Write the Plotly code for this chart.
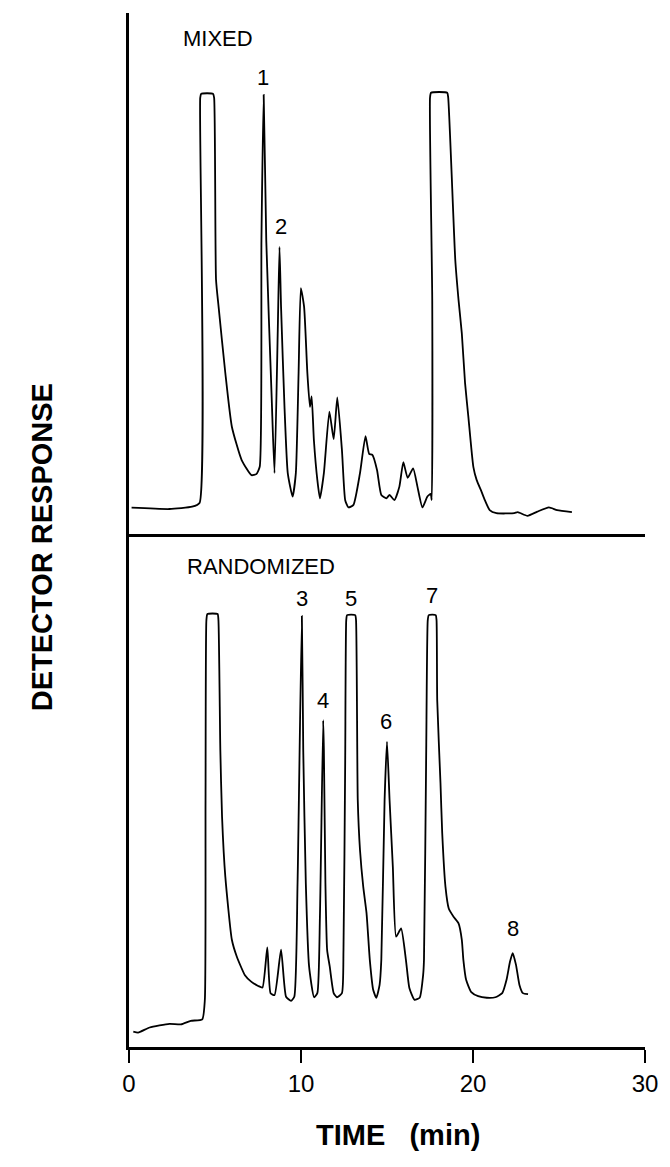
import plotly.graph_objects as go

# ---- data: MIXED chromatogram (time in min, detector response in arbitrary units) ----
mixed_t = [0.15, 2.35, 3.67, 4.1, 4.14, 4.2, 4.88, 4.95, 5.06, 5.21, 5.6, 5.98, 6.55, 7.12, 7.4, 7.6,
           7.7, 7.83, 7.98, 8.3, 8.46, 8.65, 8.75, 8.84, 9.04, 9.23, 9.51, 9.7, 9.86, 9.99, 10.18,
           10.37, 10.52, 10.62, 10.75, 10.95, 11.1, 11.33, 11.65, 11.9, 12.11, 12.38, 12.57, 12.76,
           13.05, 13.43, 13.75, 13.96, 14.15, 14.42, 14.67, 14.96, 15.15, 15.43, 15.72, 15.95, 16.2,
           16.52, 16.77, 17.06, 17.35, 17.54, 17.6, 17.63, 17.5, 17.56, 18.5, 18.56, 18.97, 19.16,
           19.35, 19.54, 19.73, 20.02, 20.21, 20.5, 20.69, 20.97, 21.36, 22.4, 22.6, 23.17, 23.74,
           24.41, 24.89, 25.75]
mixed_v = [5.05, 4.8, 5.24, 5.95, 83.7, 84.5, 84.5, 83.7, 48.8, 43.6, 30.9, 20.6, 14.2, 11.3, 11.5, 12.9,
           56.4, 84.3, 56.4, 25.7, 11.7, 39.2, 55.1, 43.6, 24.4, 11.7, 7.2, 11.7, 30.9, 47.2, 43.6,
           30.9, 24.4, 26.4, 18.0, 10.4, 6.85, 11.7, 23.5, 18.2, 26.2, 16.1, 6.5, 5.1,
           5.6, 11.7, 18.8, 15.4, 15.2, 12.3, 7.5, 6.85, 7.5, 6.5, 9.1, 13.8, 10.8,
           12.6, 9.1, 5.1, 7.2, 7.7, 6.5, 44.9, 83.7, 84.7, 84.7, 83.7, 52.6, 44.9,
           38.5, 28.9, 22.5, 12.9, 10.4, 8.1, 6.5, 4.6, 4.0, 4.0, 4.2, 3.5, 4.3,
           5.1, 4.6, 4.2]

# ---- data: RANDOMIZED chromatogram ----
rand_t = [0.25, 0.53, 1.2, 2.35, 3.02, 3.59, 4.26, 4.41, 4.45, 4.5, 4.56, 5.15, 5.2, 5.31, 5.41, 5.6,
          5.98, 6.27, 6.74, 7.12, 7.51, 7.76, 8.04, 8.23, 8.46, 8.84, 9.13, 9.42, 9.61, 9.8, 10.05,
          10.13, 10.28, 10.47, 10.76, 10.95, 11.1, 11.29, 11.33, 11.42, 11.52, 11.67, 11.9, 12.09,
          12.38, 12.47, 12.57, 12.63, 12.68, 13.15, 13.2, 13.3, 13.43, 13.62, 13.81, 14.0, 14.2,
          14.38, 14.57, 14.67, 14.86, 15.0, 15.15, 15.34, 15.53, 15.82, 16.1, 16.3, 16.6, 16.9,
          17.1, 17.15, 17.28, 17.37, 17.43, 17.83, 17.88, 17.92, 18.11, 18.21, 18.4, 18.59, 18.87,
          19.16, 19.35, 19.44, 19.6, 19.9, 20.3, 20.8, 21.3, 21.7, 21.95, 22.15, 22.31, 22.5, 22.7,
          22.9, 23.2]
rand_v = [3.0, 2.8, 3.8, 4.5, 4.4, 5.1, 5.4, 9.2, 48.1, 83.2, 84.4, 84.4, 83.2, 57.9, 44.9, 33.2,
          20.9, 17.6, 14.0, 12.7, 11.9, 11.6, 19.4, 10.5, 10.1, 19.0, 9.8, 9.0, 9.8, 32.0, 84.0,
          57.9, 31.9, 15.7, 9.7, 10.5, 25.4, 63.7, 57.9, 31.9, 18.9, 15.7, 10.5, 9.7,
          10.5, 18.9, 55.9, 83.2, 84.2, 84.2, 83.2, 48.1, 38.4, 31.2, 26.1, 17.0, 11.1,
          9.6, 12.1, 17.0, 48.1, 59.5, 48.1, 35.1, 21.5, 23.1, 17.0, 11.5, 9.2, 9.6,
          14.0, 17.0, 57.9, 83.2, 84.2, 84.2, 83.2, 67.6, 51.4, 41.7, 31.2, 27.0, 25.4,
          24.1, 20.9, 17.0, 13.1, 10.7, 9.9, 9.6, 9.7, 10.5, 13.1, 16.6, 18.3, 16.0, 12.1,
          10.5, 10.3]

# ---- peak labels ----
mixed_labels = ["1", "2"]
mixed_label_t = [7.8, 8.81]
mixed_label_v = [87.7, 59.0]
rand_labels = ["3", "4", "5", "6", "7", "8"]
rand_label_t = [10.05, 11.29, 12.91, 14.92, 17.63, 22.31]
rand_label_v = [87.5, 67.6, 87.5, 63.5, 88.1, 23.1]

x_ticks = [0, 10, 20, 30]

FONT = "Liberation Sans, Arial, Helvetica, sans-serif"
LINE = dict(color="black", width=1.8, shape="spline", smoothing=0.5)

fig = go.Figure()
fig.add_trace(go.Scatter(x=mixed_t, y=mixed_v, mode="lines", line=LINE, xaxis="x2", yaxis="y2",
                         showlegend=False, hoverinfo="skip"))
fig.add_trace(go.Scatter(x=rand_t, y=rand_v, mode="lines", line=LINE, xaxis="x", yaxis="y",
                         showlegend=False, hoverinfo="skip"))

split = 0.4961
annotations = []
annotations.append(dict(text="MIXED", x=3.04, y=95.2, xref="x2", yref="y2", xanchor="left",
                        yanchor="middle", showarrow=False, font=dict(family=FONT, size=22, color="black")))
annotations.append(dict(text="RANDOMIZED", x=3.27, y=93.6, xref="x", yref="y", xanchor="left",
                        yanchor="middle", showarrow=False, font=dict(family=FONT, size=22, color="black")))
for s, t, v in zip(mixed_labels, mixed_label_t, mixed_label_v):
    annotations.append(dict(text=s, x=t, y=v, xref="x2", yref="y2", showarrow=False,
                            font=dict(family=FONT, size=22, color="black")))
for s, t, v in zip(rand_labels, rand_label_t, rand_label_v):
    annotations.append(dict(text=s, x=t, y=v, xref="x", yref="y", showarrow=False,
                            font=dict(family=FONT, size=22, color="black")))
annotations.append(dict(text="<b>DETECTOR RESPONSE</b>", x=-0.168, y=0.4836, xref="paper", yref="paper",
                        textangle=-90, showarrow=False, xanchor="center", yanchor="middle",
                        font=dict(family=FONT, size=29, color="black")))
annotations.append(dict(text="<b>TIME   (min)</b>", x=0.6845, y=-0.0851, xref="paper", yref="paper",
                        showarrow=False, xanchor="right", yanchor="middle",
                        font=dict(family=FONT, size=29, color="black")))

fig.update_layout(
    width=670, height=1167,
    margin=dict(l=129, r=18, t=13, b=120),
    paper_bgcolor="white", plot_bgcolor="white",
    xaxis=dict(range=[0, 30], tickvals=x_ticks, ticktext=[str(v) for v in x_ticks],
               showline=True, linecolor="black", linewidth=3, ticks="outside", ticklen=13,
               tickwidth=2, tickcolor="black", showgrid=False, zeroline=False, anchor="y",
               tickfont=dict(family=FONT, size=24, color="black")),
    xaxis2=dict(range=[0, 30], matches="x", showline=True, linecolor="black", linewidth=3,
                showticklabels=False, ticks="", showgrid=False, zeroline=False, anchor="y2"),
    yaxis=dict(domain=[0, split], range=[0, 100], showline=True, linecolor="black", linewidth=3,
               showticklabels=False, ticks="", showgrid=False, zeroline=False, anchor="x"),
    yaxis2=dict(domain=[split, 1], range=[0, 100], showline=True, linecolor="black", linewidth=3,
                showticklabels=False, ticks="", showgrid=False, zeroline=False, anchor="x2"),
    annotations=annotations,
)

# remove the browser's default 8px body margin so the 670x1167 figure fills the window exactly
fig.write_html("out.html", config={"displayModeBar": False},
               post_script="document.body.style.margin='0';document.body.style.overflow='hidden';")
